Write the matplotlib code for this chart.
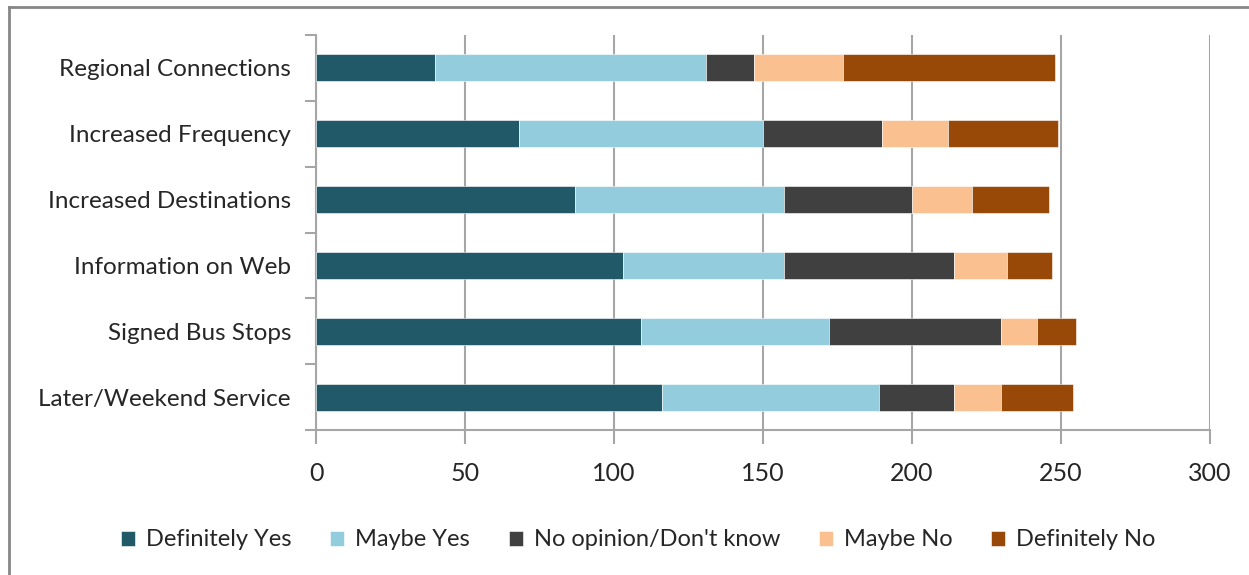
import numpy as np
import matplotlib
matplotlib.use("Agg")
import matplotlib.pyplot as plt
from matplotlib.lines import Line2D

categories = ["Later/Weekend Service", "Signed Bus Stops", "Information on Web",
              "Increased Destinations", "Increased Frequency", "Regional Connections"]
definitely_yes = [116, 109, 103, 87, 68, 40]
maybe_yes = [73, 63, 54, 70, 82, 91]
no_opinion = [25, 58, 57, 43, 40, 16]
maybe_no = [16, 12, 18, 20, 22, 30]
definitely_no = [24, 13, 15, 26, 37, 71]

series = [
    ("Definitely Yes", definitely_yes, "#215968"),
    ("Maybe Yes", maybe_yes, "#93CDDD"),
    ("No opinion/Don't know", no_opinion, "#404040"),
    ("Maybe No", maybe_no, "#FAC090"),
    ("Definitely No", definitely_no, "#984807"),
]

plt.rcParams['font.family'] = ['Lato', 'DejaVu Sans']
text_color = "#262626"
grid_color = "#A6A6A6"

fig = plt.figure(figsize=(12.49, 5.75), dpi=100)
ax = fig.add_axes([316 / 1249, 1 - 430 / 575, (1210 - 316) / 1249, (430 - 35) / 575])

y = np.arange(len(categories))
left = np.zeros(len(categories))
for name, vals, col in series:
    ax.barh(y, vals, left=left, height=0.41, color=col, label=name,
            edgecolor="white", linewidth=0.4, zorder=3)
    left += np.array(vals)

ax.set_xlim(0, 300)
ax.set_ylim(-0.5, len(categories) - 0.5)
ax.set_xticks(np.arange(0, 301, 50))
ax.xaxis.grid(True, color=grid_color, linewidth=1.5, zorder=0)
ax.set_axisbelow(True)

ax.set_yticks(y)
ax.set_yticklabels(categories, fontsize=17.5, color=text_color)
ax.set_yticks(np.arange(-0.5, len(categories), 1), minor=True)
ax.tick_params(axis="y", which="major", length=0, pad=18)
ax.tick_params(axis="y", which="minor", length=8, width=1.5, color=grid_color, direction="out")
ax.tick_params(axis="x", length=10, width=1.5, color=grid_color, labelsize=18,
               labelcolor=text_color, pad=13)

for s in ["top", "right"]:
    ax.spines[s].set_visible(False)
for s in ["left", "bottom"]:
    ax.spines[s].set_color(grid_color)
    ax.spines[s].set_linewidth(1.5)

fig.legend(loc="center", bbox_to_anchor=(0.511, 1 - 540 / 575), ncol=5, frameon=False,
           fontsize=17, handlelength=0.6, handleheight=0.6, handletextpad=0.45,
           columnspacing=1.65, labelcolor=text_color)

# chart frame (only top and left edges visible)
fig.add_artist(Line2D([9 / 1249, 1], [1 - 7 / 575, 1 - 7 / 575], transform=fig.transFigure,
                      color="#868686", linewidth=2))
fig.add_artist(Line2D([9 / 1249, 9 / 1249], [0, 1 - 7 / 575], transform=fig.transFigure,
                      color="#868686", linewidth=2))

fig.savefig("out.png", dpi=100)
